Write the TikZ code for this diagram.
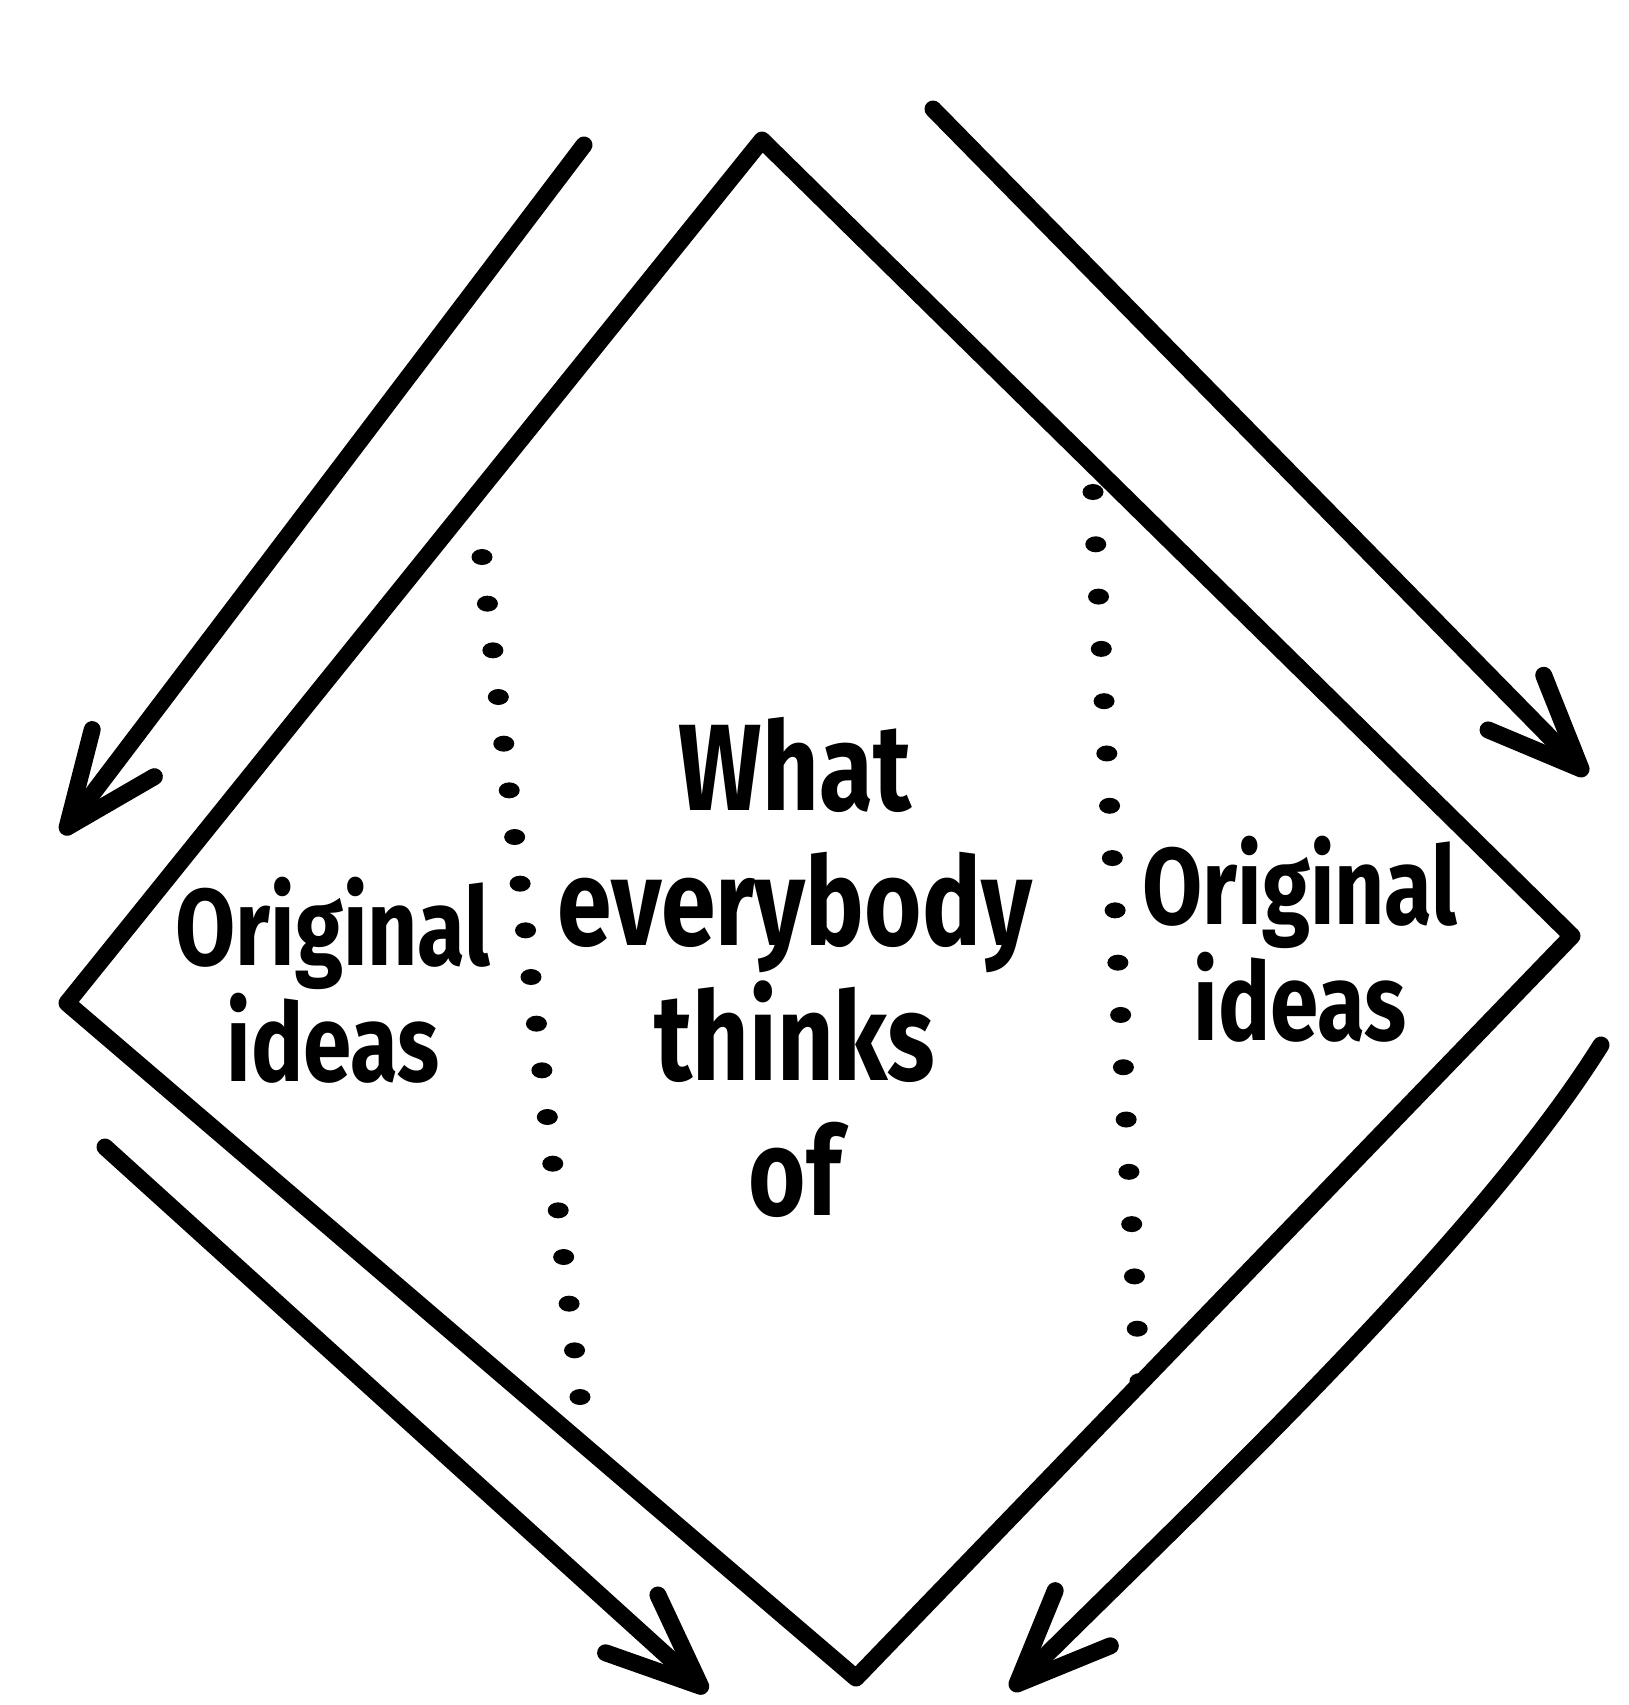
\documentclass[tikz,border=0pt]{standalone}
\usepackage{fontspec}
\newfontfamily\mainlevee{Fira Sans}[FakeStretch=0.8]
\usetikzlibrary{arrows.meta,calc}

\begin{document}
\begin{tikzpicture}[
    bord/.style={line width=0.17cm, line cap=round, line join=round},
    fleche/.style={bord, -{Straight Barb[length=0.93cm, width=0.78cm, round]}},
    point/.style={fill=black},
    cote/.style={align=center, font=\mainlevee\bfseries\fontsize{31}{28.5}\selectfont},
    centre/.style={align=center, font=\mainlevee\bfseries\fontsize{35}{38.4}\selectfont}
]
\useasboundingbox (0,0) rectangle (16.29,-17.05);

% Losange
\coordinate (haut) at (7.62,-1.40);
\coordinate (droite) at (15.72,-9.36);
\coordinate (bas) at (8.56,-16.78);
\coordinate (gauche) at (0.67,-10.03);
\draw[bord] (haut) -- (droite) -- (bas) -- (gauche) -- cycle;

% Flèches
\coordinate (hg1) at (5.84,-1.45);
\coordinate (hg2) at (0.62,-8.34);
\coordinate (hd1) at (9.33,-1.09);
\coordinate (hd2) at (15.87,-7.75);
\coordinate (bg1) at (1.05,-11.47);
\coordinate (bg2) at (7.07,-16.92);
\coordinate (bd1) at (16.01,-10.45);
\coordinate (bd2) at (10.11,-16.90);
\draw[fleche] (hg1) -- (hg2);
\draw[fleche] (hd1) -- (hd2);
\draw[fleche] (bg1) -- (bg2);
\draw[fleche] (bd1) to[out=238,in=45,looseness=0.7] (bd2);

% Pointillés
\coordinate (pg1) at (4.82,-5.57);
\coordinate (pg2) at (5.80,-13.97);
\coordinate (pd1) at (10.93,-4.92);
\coordinate (pd2) at (11.40,-13.81);
\foreach \i in {0,...,18}
    \fill[point] ($(pg1)!\i/18!(pg2)$) circle [x radius=0.105, y radius=0.08];
\foreach \i in {0,...,17}
    \fill[point] ($(pd1)!\i/17!(pd2)$) circle [x radius=0.105, y radius=0.08];

% Textes
\node[cote] (idees_g) at (3.33,-9.80) {Original\\ideas};
\node[centre] (tous) at (7.95,-9.67) {What\\everybody\\thinks\\of};
\node[cote] (idees_d) at (13.00,-9.39) {Original\\ideas};

\end{tikzpicture}
\end{document}
